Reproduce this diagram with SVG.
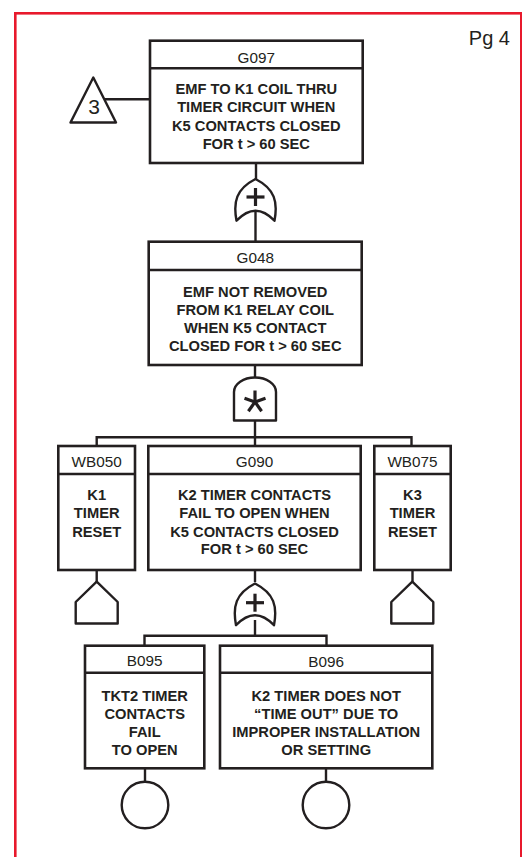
<svg xmlns="http://www.w3.org/2000/svg" width="522" height="857" viewBox="0 0 522 857">
  <style>
    .box { fill: #ffffff; stroke: #231f20; stroke-width: 2.6; }
    .sym { fill: #ffffff; stroke: #231f20; stroke-width: 2.4; stroke-linejoin: round; }
    .ln { fill: none; stroke: #231f20; stroke-width: 2.4; }
    .mark { fill: none; stroke: #231f20; stroke-width: 3.2; stroke-linecap: butt; }
    .id { font-family: "Liberation Sans", Arial, sans-serif; font-size: 15.3px; fill: #231f20; text-anchor: middle; }
    .desc { font-family: "Liberation Sans", Arial, sans-serif; font-size: 14.7px; font-weight: bold; fill: #231f20; text-anchor: middle; }
    .pg { font-family: "Liberation Sans", Arial, sans-serif; font-size: 20px; fill: #231f20; text-anchor: end; }
  </style>
  <defs>
    <!-- OR gate outline, origin at the gate centre -->
    <path id="orGate" d="M-19,21.7 C-22.5,3 -19.5,-10 0,-20 C19.5,-10 22.5,3 19,21.7 Q0,1.7 -19,21.7 Z"/>
    <!-- house (undeveloped/house event) outline, origin at the apex -->
    <path id="house" d="M0,0 L21,20.3 L21,41.8 L-21,41.8 L-21,20.3 Z"/>
  </defs>

  <rect width="522" height="857" fill="#ffffff"/>
  <!-- page frame -->
  <rect x="15.3" y="13.3" width="506" height="900" fill="none" stroke="#e8192c" stroke-width="2.6"/>
  <text class="pg" x="510" y="45">Pg 4</text>

  <!-- connectors -->
  <g id="connectors">
    <line class="ln" x1="105" y1="99.3" x2="150" y2="99.3"/>
    <line class="ln" x1="256" y1="163" x2="256" y2="179"/>
    <line class="ln" x1="255.5" y1="212" x2="255.5" y2="242"/>
    <line class="ln" x1="255" y1="365" x2="255" y2="378"/>
    <line class="ln" x1="255" y1="420" x2="255" y2="437.3"/>
    <polyline class="ln" points="96.7,446 96.7,437.3 411.5,437.3 411.5,446"/>
    <line class="ln" x1="255" y1="437.3" x2="255" y2="446"/>
    <line class="ln" x1="96.7" y1="570" x2="96.7" y2="582"/>
    <line class="ln" x1="412.5" y1="570" x2="412.5" y2="582"/>
    <line class="ln" x1="255" y1="570" x2="255" y2="582"/>
    <line class="ln" x1="255" y1="620" x2="255" y2="635.7"/>
    <polyline class="ln" points="144.5,646 144.5,635.7 326.5,635.7 326.5,646"/>
    <line class="ln" x1="145" y1="768" x2="145" y2="782"/>
    <line class="ln" x1="326" y1="768" x2="326" y2="782"/>
  </g>

  <!-- transfer triangle -->
  <g id="transfer3">
    <polygon class="sym" points="93.3,77.5 116,122.5 70.5,122.5"/>
    <text x="94" y="114" font-family="'Liberation Sans', Arial, sans-serif" font-size="21" fill="#231f20" text-anchor="middle">3</text>
  </g>

  <g id="G097">
    <rect class="box" x="150" y="40.7" width="212.7" height="122.3"/>
    <line class="ln" x1="150" y1="68.3" x2="362.7" y2="68.3"/>
    <text class="id" x="256.3" y="63.3">G097</text>
    <text class="desc" x="256.3" y="94.3">EMF TO K1 COIL THRU</text>
    <text class="desc" x="256.3" y="112.3">TIMER CIRCUIT WHEN</text>
    <text class="desc" x="256.3" y="130.7">K5 CONTACTS CLOSED</text>
    <text class="desc" x="256.3" y="148.5">FOR t &gt; 60 SEC</text>
  </g>

  <g id="or1">
    <use href="#orGate" class="sym" x="255.5" y="199"/>
    <line class="mark" x1="246.5" y1="197" x2="264.5" y2="197"/>
    <line class="mark" x1="255.5" y1="188" x2="255.5" y2="206"/>
  </g>

  <g id="G048">
    <rect class="box" x="148.7" y="241.7" width="213" height="123.3"/>
    <line class="ln" x1="148.7" y1="270" x2="361.7" y2="270"/>
    <text class="id" x="255.2" y="263.3">G048</text>
    <text class="desc" x="255.2" y="296.7">EMF NOT REMOVED</text>
    <text class="desc" x="255.2" y="315">FROM K1 RELAY COIL</text>
    <text class="desc" x="255.2" y="332.7">WHEN K5 CONTACT</text>
    <text class="desc" x="255.2" y="350.7">CLOSED FOR t &gt; 60 SEC</text>
  </g>

  <g id="and1">
    <path class="sym" d="M234,420.5 L234,392 A21,14.5 0 0 1 276,392 L276,420.5 Z"/>
    <g class="mark" stroke-width="3.8">
      <line x1="255" y1="402" x2="255" y2="390.5"/>
      <line x1="255" y1="402" x2="265.5" y2="398.3"/>
      <line x1="255" y1="402" x2="244.5" y2="398.3"/>
      <line x1="255" y1="402" x2="261.6" y2="411.2"/>
      <line x1="255" y1="402" x2="248.4" y2="411.2"/>
    </g>
  </g>

  <g id="WB050">
    <rect class="box" x="58.3" y="446" width="76.7" height="124"/>
    <line class="ln" x1="58.3" y1="474" x2="135" y2="474"/>
    <text class="id" x="96.7" y="466.7">WB050</text>
    <text class="desc" x="96.7" y="500">K1</text>
    <text class="desc" x="96.7" y="518.3">TIMER</text>
    <text class="desc" x="96.7" y="536.7">RESET</text>
    <use href="#house" class="sym" x="96.7" y="581.7"/>
  </g>

  <g id="G090">
    <rect class="box" x="148.3" y="446" width="212.4" height="124"/>
    <line class="ln" x1="148.3" y1="474" x2="360.7" y2="474"/>
    <text class="id" x="254.5" y="467">G090</text>
    <text class="desc" x="254.5" y="500">K2 TIMER CONTACTS</text>
    <text class="desc" x="254.5" y="518.3">FAIL TO OPEN WHEN</text>
    <text class="desc" x="254.5" y="536.7">K5 CONTACTS CLOSED</text>
    <text class="desc" x="254.5" y="554.3">FOR t &gt; 60 SEC</text>
  </g>

  <g id="WB075">
    <rect class="box" x="374.3" y="446" width="76.4" height="124"/>
    <line class="ln" x1="374.3" y1="474" x2="450.7" y2="474"/>
    <text class="id" x="412.5" y="466.7">WB075</text>
    <text class="desc" x="412.5" y="500">K3</text>
    <text class="desc" x="412.5" y="518.3">TIMER</text>
    <text class="desc" x="412.5" y="536.7">RESET</text>
    <use href="#house" class="sym" x="412.3" y="581.7"/>
  </g>

  <g id="or2">
    <use href="#orGate" class="sym" x="255" y="603.5"/>
    <line class="mark" x1="246" y1="602.7" x2="264" y2="602.7"/>
    <line class="mark" x1="255" y1="593.7" x2="255" y2="611.7"/>
  </g>

  <g id="B095">
    <rect class="box" x="85" y="645.7" width="119.3" height="122.6"/>
    <line class="ln" x1="85" y1="672.7" x2="204.3" y2="672.7"/>
    <text class="id" x="144.7" y="666.3">B095</text>
    <text class="desc" x="144.7" y="700.7">TKT2 TIMER</text>
    <text class="desc" x="144.7" y="719">CONTACTS</text>
    <text class="desc" x="144.7" y="736.7">FAIL</text>
    <text class="desc" x="144.7" y="755">TO OPEN</text>
    <circle class="sym" cx="145" cy="805" r="23.3"/>
  </g>

  <g id="B096">
    <rect class="box" x="220" y="645.7" width="212.3" height="122.6"/>
    <line class="ln" x1="220" y1="672.7" x2="432.3" y2="672.7"/>
    <text class="id" x="326.2" y="667">B096</text>
    <text class="desc" x="326.2" y="700.7">K2 TIMER DOES NOT</text>
    <text class="desc" x="326.2" y="719">“TIME OUT” DUE TO</text>
    <text class="desc" x="326.2" y="736.7">IMPROPER INSTALLATION</text>
    <text class="desc" x="326.2" y="755">OR SETTING</text>
    <circle class="sym" cx="326" cy="805" r="23.3"/>
  </g>
</svg>
